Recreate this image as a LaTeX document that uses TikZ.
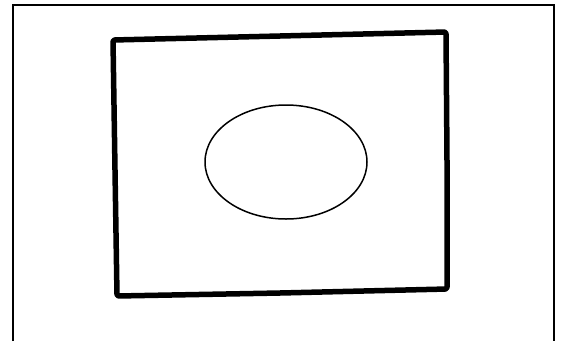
\documentclass[tikz,border=0pt]{standalone}
\begin{document}
\begin{tikzpicture}[x=1pt,y=-1pt]
    % Page size
    \useasboundingbox (0,0) rectangle (567,341);
    
    % Outer frame, open at the bottom
    \draw[line width=1.8pt] (13,341) -- (13,5) -- (554,5) -- (554,341);
    
    % Thick hand-drawn box
    \draw[line width=5.5pt, line join=round, rounded corners=2pt]
        (113,40) -- (280,36) -- (446,32) -- (447,160) -- (447,289)
        -- (280,293) -- (117,296) -- (115,170) -- cycle;
    
    % Ellipse in the middle
    \draw[line width=1.5pt] (286,162) ellipse [x radius=81, y radius=57];
\end{tikzpicture}
\end{document}
